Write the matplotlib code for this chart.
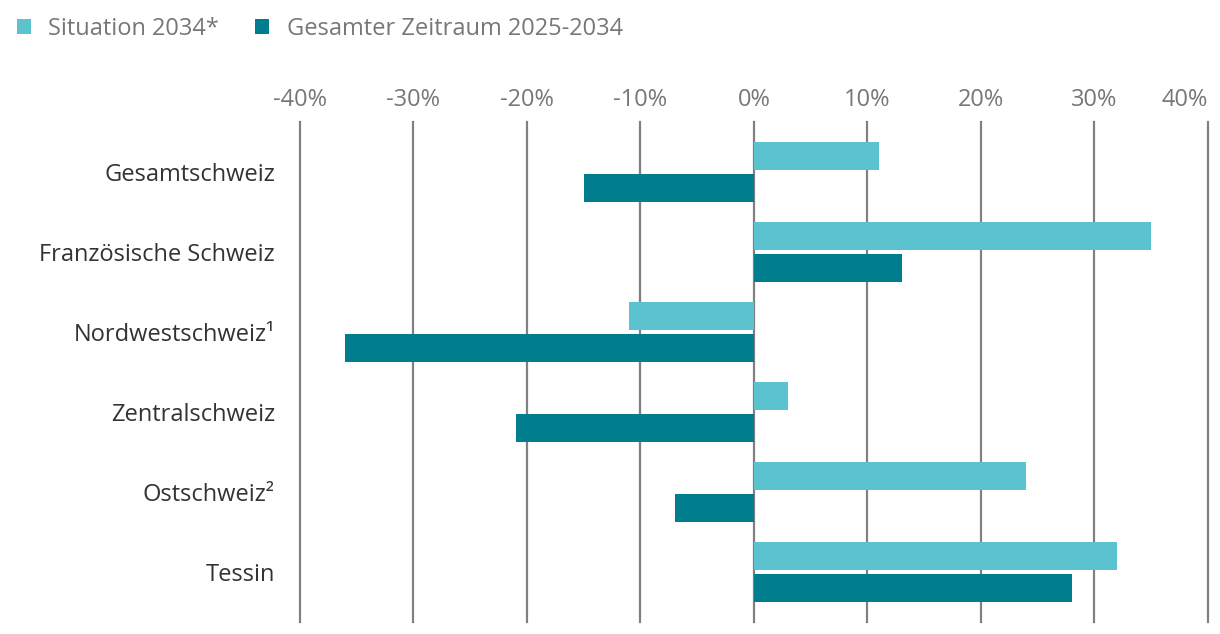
import matplotlib
matplotlib.use("Agg")
import matplotlib.pyplot as plt
import numpy as np

plt.rcParams["font.family"] = ["Open Sans", "DejaVu Sans"]

regions = ["Gesamtschweiz", "Französische Schweiz", "Nordwestschweiz¹",
           "Zentralschweiz", "Ostschweiz²", "Tessin"]
situation_2034 = [11, 35, -11, 3, 24, 32]
zeitraum_2025_2034 = [-15, 13, -36, -21, -7, 28]
series_names = ["Situation 2034*", "Gesamter Zeitraum 2025-2034"]
ticks = [-40, -30, -20, -10, 0, 10, 20, 30, 40]

light = "#5bc3cf"
dark = "#007d8e"

fig = plt.figure(figsize=(12.2, 6.34), dpi=100)
ax = fig.add_axes([300 / 1220, 12 / 634, 908 / 1220, 500 / 634])

y = np.arange(len(regions))
h = 0.35
b1 = ax.barh(y - 0.2, situation_2034, height=h, color=light, zorder=3,
             label=series_names[0])
b2 = ax.barh(y + 0.2, zeitraum_2025_2034, height=h, color=dark, zorder=3,
             label=series_names[1])

ax.set_xlim(-40, 40)
ax.set_ylim(len(regions) - 0.375, -0.625)
ax.set_xticks(ticks)
ax.set_xticklabels([f"{t}%" for t in ticks])
ax.xaxis.tick_top()
ax.tick_params(axis="x", length=0, pad=7, labelsize=17, labelcolor="#777777")
ax.get_xticklabels()[-1].set_horizontalalignment("right")
ax.set_yticks(y)
ax.set_yticklabels(regions)
ax.tick_params(axis="y", length=0, pad=18, labelsize=17, labelcolor="#333333")
ax.grid(axis="x", color="#808080", linewidth=1.6, zorder=0)
for line in ax.get_xgridlines():
    line.set_clip_on(False)
for s in ax.spines.values():
    s.set_visible(False)

fig.legend(handles=[b1, b2], labels=series_names, loc="upper left",
           bbox_to_anchor=(0.0, 1.0), ncol=2, frameon=False,
           fontsize=17, labelcolor="#777777", handlelength=0.6,
           handleheight=0.6, handletextpad=0.75, columnspacing=1.5,
           borderaxespad=0.3)

fig.savefig("out.png", dpi=100)
